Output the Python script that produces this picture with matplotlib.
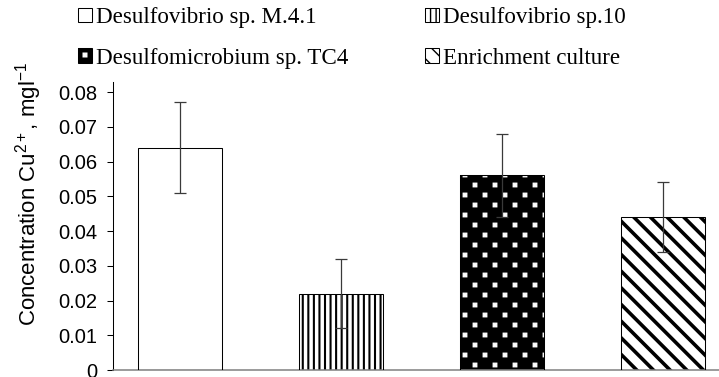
import warnings
import numpy as np
import matplotlib
matplotlib.use("Agg")
import matplotlib.pyplot as plt
import matplotlib.hatch as mhatch
from matplotlib.path import Path
from matplotlib.patches import Patch

warnings.filterwarnings("ignore", message=".*hatch must consist.*")

# ── Data ──────────────────────────────────────────────────────────────────────
strains = ["Desulfovibrio sp. M.4.1", "Desulfovibrio sp.10",
           "Desulfomicrobium sp. TC4", "Enrichment culture"]
cu_conc = [0.064, 0.022, 0.056, 0.044]
cu_err = [0.013, 0.010, 0.012, 0.010]
y_ticks = [0, 0.01, 0.02, 0.03, 0.04, 0.05, 0.06, 0.07, 0.08]
y_ticklabels = ["0", "0.01", "0.02", "0.03", "0.04", "0.05", "0.06", "0.07", "0.08"]

# ── Style ─────────────────────────────────────────────────────────────────────
plt.rcParams.update({
    "font.family": "Liberation Sans",
    "mathtext.fontset": "custom",
    "mathtext.rm": "Liberation Sans",
    "mathtext.it": "Liberation Sans:italic",
    "mathtext.bf": "Liberation Sans:bold",
    "hatch.linewidth": 1.0,
})


class SquareDots(mhatch.HatchPatternBase):
    """Staggered little squares, used via 'q' in a hatch string."""
    rows, cols, size = 10, 5, 0.036

    def __init__(self, hatch, density):
        self.on = "q" in hatch
        self.num_vertices = self.rows * self.cols * 5 if self.on else 0

    def set_vertices_and_codes(self, vertices, codes):
        h = self.size / 2
        k = 0
        for r in range(self.rows):
            y = (r + 0.5) / self.rows
            shift = 0.25 if r % 2 == 0 else 0.75
            for c in range(self.cols):
                x = (c + shift) / self.cols
                vertices[k:k + 5] = [(x - h, y - h), (x + h, y - h), (x + h, y + h),
                                     (x - h, y + h), (x - h, y - h)]
                codes[k:k + 5] = [Path.MOVETO, Path.LINETO, Path.LINETO,
                                  Path.LINETO, Path.CLOSEPOLY]
                k += 5


mhatch._hatch_types.append(SquareDots)

# face colour, hatch, hatch colour, hatch linewidth
STYLES = [
    ("white", None, "black", 1.0),
    ("white", "|||", "black", 1.5),
    ("black", "q", "white", 0.9),
    ("white", "\\\\", "black", 2.6),
]


def make_patch_layer(ax, x, h, style, width):
    face, hatch, hcol, hlw = style
    plt.rcParams["hatch.linewidth"] = hlw
    bars = ax.bar(x, h, width, color=face, hatch=hatch, edgecolor=hcol,
                  linewidth=0, zorder=2)
    for b in bars:
        if hasattr(b, "set_hatch_linewidth"):
            b.set_hatch_linewidth(hlw)
    return bars


fig = plt.figure(figsize=(7.19, 3.77), dpi=100)
ax = fig.add_axes([113 / 719, 7 / 377, 606 / 719, 288 / 377])

x = np.arange(len(strains))
width = 0.52
handles = []
for i, st in enumerate(STYLES):
    make_patch_layer(ax, x[i], cu_conc[i], st, width)
    face, hatch, hcol, hlw = st
    plt.rcParams["hatch.linewidth"] = hlw
    ph = Patch(facecolor=face, hatch=hatch, edgecolor=hcol, linewidth=0)
    if hasattr(ph, "set_hatch_linewidth"):
        ph.set_hatch_linewidth(hlw)
    oh = Patch(facecolor="none", edgecolor="black", linewidth=0.75)
    handles.append((ph, oh))
plt.rcParams["hatch.linewidth"] = 1.0

ax.bar(x, cu_conc, width, fill=False, edgecolor="black", linewidth=0.75, zorder=3)
ax.errorbar(x, cu_conc, yerr=cu_err, fmt="none", ecolor="#3a3a3a",
            elinewidth=0.9, capsize=4, capthick=0.9, zorder=4)

ax.set_xlim(-0.416, 3.348)
ax.set_ylim(0, 0.0829)
ax.set_yticks(y_ticks)
ax.set_yticklabels(y_ticklabels)
ax.set_xticks([])
ax.tick_params(axis="y", direction="out", length=4.3, width=0.75, pad=7,
               labelsize=14.5, colors="black")
for s in ["top", "right"]:
    ax.spines[s].set_visible(False)
ax.spines["left"].set_linewidth(0.75)
ax.spines["bottom"].set_color("#808080")
ax.spines["bottom"].set_linewidth(1.1)

ax.set_ylabel(r"Concentration Cu$^{2+}$, mgl$^{-1}$", fontsize=16)
ax.yaxis.set_label_coords(-0.114, 0.61)

# legend is filled row by row in the original
order = [0, 2, 1, 3]
fig.legend([handles[i] for i in order], [strains[i] for i in order],
           loc="upper left", ncol=2,
           bbox_to_anchor=(78 / 719, 1 - 7 / 377), frameon=False,
           prop={"family": "Liberation Serif", "size": 16.6},
           handlelength=0.6, handleheight=0.6, handletextpad=0.2,
           columnspacing=3.3, labelspacing=0.85, borderpad=0, borderaxespad=0)

fig.savefig("out.png", dpi=100)
